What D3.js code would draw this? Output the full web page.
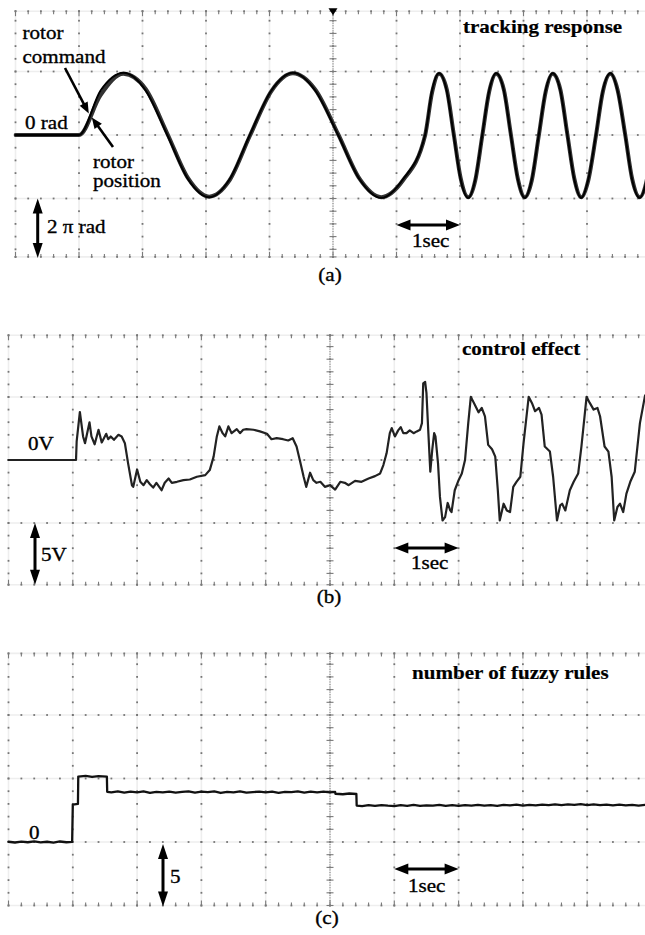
<!DOCTYPE html>
<html>
<head>
<meta charset="utf-8">
<script src="https://cdnjs.cloudflare.com/ajax/libs/d3/7.8.5/d3.min.js"></script>
<style>
  html, body { margin: 0; padding: 0; background: #fff; }
  svg { display: block; }
  .lbl { font-family: "Liberation Serif", "Times New Roman", serif; font-size: 19.5px; fill: #000;
         stroke: #000; stroke-width: 0.35px; }
  .lbl.ttl { font-weight: bold; stroke-width: 0.2px; }
  .dot { fill: #767676; }
  .fine { fill: #8e8e8e; }
  .smear { stroke: #eeeeee; stroke-width: 1.6; }
  .tick { stroke: #7a7a7a; stroke-width: 1.1; }
  .arrow line { stroke: #000; stroke-width: 3; }
  .arrow path { fill: #000; }
</style>
</head>
<body>
<svg id="chart" width="645" height="935"></svg>
<script>
// (a) tracking response, time in sec, angle in rad
const timeA = [0, 1.00, 1.34, 1.70, 2.05, 2.39, 2.72, 3.05, 3.37, 3.69, 4.03, 4.37, 4.72, 5.08, 5.42, 5.76, 6.10, 6.45,
  6.56, 6.67, 6.79, 6.90, 7.01, 7.13, 7.24, 7.35,
  7.46, 7.57, 7.69, 7.80, 7.91, 8.02, 8.13, 8.24,
  8.35, 8.46, 8.58, 8.69, 8.80, 8.91, 9.02, 9.14,
  9.25, 9.37, 9.48, 9.60, 9.71, 9.83, 9.94, 10.05];
const commandA = [0, 0, 4.40, 6.16, 4.40, 0, -4.40, -6.16, -4.40, 0, 4.40, 6.16, 4.40, 0, -4.40, -6.22, -4.40, 0,
  4.40, 6.10, 4.40, 0, -4.40, -6.22, -4.40, 0,
  4.40, 6.10, 4.40, 0, -4.40, -6.22, -4.40, 0,
  4.40, 6.10, 4.40, 0, -4.40, -6.22, -4.40, 0,
  4.40, 6.10, 4.40, 0, -4.40, -6.22, -4.40, 0];
const positionA = [0, 0, 3.95, 6.05, 4.55, 0.15, -4.30, -6.10, -4.50, -0.10, 4.35, 6.10, 4.50, 0.10, -4.35, -6.15, -4.50, -0.05,
  4.20, 6.05, 4.55, 0.15, -4.25, -6.15, -4.50, -0.10,
  4.30, 6.05, 4.50, 0.10, -4.30, -6.15, -4.50, -0.10,
  4.30, 6.05, 4.50, 0.10, -4.30, -6.15, -4.50, -0.10,
  4.30, 6.05, 4.50, 0.10, -4.30, -6.15, -4.50, -0.10];

// (b) control effect, [sec, volt]
const controlEffect = [
  [0, 0], [1.05, 0], [1.06, 1.47], [1.11, 3.81], [1.16, 1.87], [1.19, 1.33], [1.26, 2.99], [1.29, 1.87],
  [1.34, 1.25], [1.40, 2.40], [1.45, 1.39], [1.52, 2.08], [1.55, 1.65], [1.59, 1.87], [1.64, 1.60], [1.71, 2.00],
  [1.76, 1.87], [1.81, 1.33], [1.86, -0.27], [1.92, -2.00], [1.94, -2.13], [2.00, -0.75], [2.05, -1.73], [2.10, -2.00],
  [2.15, -1.60], [2.20, -1.92], [2.25, -2.19], [2.30, -1.81], [2.38, -2.40], [2.43, -1.81], [2.49, -1.47], [2.54, -1.81],
  [2.62, -1.73], [2.72, -1.60], [2.82, -1.55], [2.93, -1.33], [3.06, -1.20], [3.13, -0.80], [3.19, 0.27], [3.24, 1.87],
  [3.28, 2.67], [3.33, 2.13], [3.37, 1.87], [3.42, 2.67], [3.47, 2.13], [3.55, 2.45], [3.60, 2.13], [3.65, 2.40],
  [3.70, 2.45], [3.81, 2.40], [3.91, 2.27], [4.02, 2.08], [4.09, 1.65], [4.17, 1.73], [4.27, 1.65], [4.35, 1.55],
  [4.42, 1.73], [4.48, 1.07], [4.53, 0.00], [4.59, -1.33], [4.63, -2.13], [4.69, -1.01], [4.74, -1.60], [4.79, -1.81],
  [4.85, -1.73], [4.92, -2.13], [5.00, -2.00], [5.08, -2.35], [5.16, -1.73], [5.23, -1.81], [5.29, -2.00], [5.39, -1.65],
  [5.49, -1.73], [5.60, -1.47], [5.70, -1.28], [5.78, -1.07], [5.83, -0.40], [5.88, 0.53], [5.93, 2.13], [5.96, 2.53],
  [6.01, 1.87], [6.06, 2.35], [6.10, 2.61], [6.14, 2.13], [6.19, 2.13], [6.24, 2.35], [6.30, 2.13], [6.35, 2.27],
  [6.40, 2.40], [6.43, 2.93], [6.45, 6.08], [6.48, 6.19], [6.50, 5.33], [6.53, 2.13], [6.56, -0.93], [6.59, 0.80],
  [6.62, 2.13], [6.64, 1.87], [6.68, -0.27], [6.71, -2.93], [6.75, -4.80], [6.79, -4.53], [6.83, -3.41], [6.87, -4.00],
  [6.89, -4.13], [6.94, -2.40], [7.00, -1.60], [7.05, -1.07], [7.10, 0.00], [7.15, 2.93], [7.19, 5.01], [7.25, 4.40],
  [7.31, 3.79], [7.36, 4.13], [7.41, 3.47], [7.46, 1.20], [7.52, 0.85], [7.57, 0.27], [7.61, -2.40], [7.64, -4.80],
  [7.70, -3.47], [7.75, -4.00], [7.80, -4.13], [7.85, -2.13], [7.90, -1.73], [7.96, -1.33], [8.01, 1.33], [8.09, 5.01],
  [8.14, 4.53], [8.19, 3.87], [8.25, 4.13], [8.29, 3.60], [8.34, 1.07], [8.42, 0.67], [8.47, -1.33], [8.53, -4.80],
  [8.58, -3.60], [8.61, -3.47], [8.66, -4.00], [8.73, -2.40], [8.79, -1.73], [8.86, -1.07], [8.91, 1.07], [8.99, 5.01],
  [9.04, 4.53], [9.10, 4.00], [9.16, 4.13], [9.20, 3.47], [9.27, 1.07], [9.33, 0.67], [9.38, -1.33], [9.42, -4.80],
  [9.47, -3.73], [9.51, -3.47], [9.56, -4.13], [9.61, -2.67], [9.67, -1.73], [9.74, -0.93], [9.82, 2.93], [9.90, 5.12],
  [9.98, 5.50]
];

// (c) number of fuzzy rules, [sec, rules]
const fuzzyRules = [
  [0, 0.02], [0.1, -0.04], [0.2, 0.03], [0.3, -0.02], [0.4, 0.05], [0.5, -0.03], [0.6, 0.02], [0.7, -0.05],
  [0.8, 0.04], [0.9, -0.02], [0.99, 0.01], [1.0, 2.95], [1.08, 3.0],
  [1.085, 5.15], [1.2, 5.2], [1.3, 5.12], [1.4, 5.18], [1.53, 5.14],
  [1.535, 3.95], [1.6, 3.9], [1.7, 3.98], [1.8, 3.88], [1.9, 3.96], [2.0, 3.91], [2.1, 3.99], [2.2, 3.87],
  [2.3, 3.95], [2.4, 3.9], [2.5, 3.97], [2.6, 3.89], [2.7, 3.94], [2.8, 3.99], [2.9, 3.88], [3.0, 3.96],
  [3.1, 3.92], [3.2, 3.98], [3.3, 3.86], [3.4, 3.95], [3.5, 3.91], [3.6, 3.99], [3.7, 3.88], [3.8, 3.93],
  [3.9, 3.97], [4.0, 3.9], [4.1, 3.96], [4.2, 3.87], [4.3, 3.95], [4.4, 3.92], [4.5, 3.98], [4.6, 3.89],
  [4.7, 3.96], [4.8, 3.91], [4.9, 3.97], [5.0, 3.9], [5.08, 3.94],
  [5.085, 3.8], [5.2, 3.76], [5.3, 3.82], [5.41, 3.78],
  [5.415, 2.87], [5.5, 2.82], [5.6, 2.9], [5.7, 2.84], [5.8, 2.91], [5.9, 2.86], [6.0, 2.83], [6.1, 2.9],
  [6.2, 2.85], [6.3, 2.92], [6.4, 2.84], [6.5, 2.89], [6.6, 2.86], [6.7, 2.93], [6.8, 2.85], [6.9, 2.9],
  [7.0, 2.84], [7.1, 2.91], [7.2, 2.87], [7.3, 2.93], [7.4, 2.86], [7.5, 2.9], [7.6, 2.85], [7.7, 2.92],
  [7.8, 2.88], [7.9, 2.94], [8.0, 2.87], [8.1, 2.93], [8.2, 2.89], [8.3, 2.95], [8.4, 2.9], [8.5, 2.97],
  [8.6, 2.91], [8.7, 2.96], [8.8, 2.92], [8.9, 2.98], [9.0, 2.91], [9.1, 2.96], [9.2, 2.9], [9.3, 2.95],
  [9.4, 2.89], [9.5, 2.94], [9.6, 2.88], [9.7, 2.93], [9.8, 2.87], [9.9, 2.92], [10.0, 2.88]
];

const svg = d3.select("#chart");

function drawArrow(g, x1, y1, x2, y2, opts = {}) {
  const len = opts.len || 14, half = opts.half || 5.5, both = opts.both !== false;
  const ang = Math.atan2(y2 - y1, x2 - x1);
  const ux = Math.cos(ang), uy = Math.sin(ang);
  const grp = g.append("g").attr("class", "arrow");
  grp.append("line")
    .attr("x1", both ? x1 + ux * len * 0.7 : x1).attr("y1", both ? y1 + uy * len * 0.7 : y1)
    .attr("x2", x2 - ux * len * 0.7).attr("y2", y2 - uy * len * 0.7)
    .style("stroke-width", opts.width || 3);
  const head = (tx, ty, dx, dy) => {
    const bx = tx - dx * len, by = ty - dy * len;
    const nx = -dy * half, ny = dx * half;
    grp.append("path").attr("d", `M${tx},${ty}L${bx + nx},${by + ny}L${bx - nx},${by - ny}Z`);
  };
  head(x2, y2, ux, uy);
  if (both) head(x1, y1, -ux, -uy);
}

class ScopePanel {

  constructor(parent, cfg) {
    this.cfg = cfg;
    this.element = parent.append("g").attr("class", "panel panel-" + cfg.id);
    // 10 divisions across, 1 div = 1 sec
    this.x = d3.scaleLinear().domain([0, 10]).range([cfg.left, cfg.right]);
    // one vertical division = cfg.unit of the measured value
    this.y = d3.scaleLinear()
      .domain([cfg.mid, cfg.mid + cfg.unit])
      .range([cfg.center, cfg.center - cfg.div]);
    // graticule in divisions; outer rows sit a little inside +-2 (cropped screen)
    this.gy = d3.scaleLinear().domain([0, 1]).range([cfg.center, cfg.center - cfg.div]);
    this.top = this.gy(cfg.edges[1]);
    this.bottom = this.gy(cfg.edges[0]);

    this.element.append("clipPath")
      .attr("id", "clip-" + cfg.id)
      .append("rect")
      .attr("x", cfg.left - 2)
      .attr("y", this.top - 4)
      .attr("width", cfg.right - cfg.left + 4)
      .attr("height", this.bottom - this.top + 8);
  }

  drawGrid() {
    const x = this.x, gy = this.gy;
    const [lo, hi] = this.cfg.edges;
    const grid = this.element.append("g").attr("class", "grid");

    const cols = d3.range(0, 11);
    const rows = [lo, -1, 0, 1, hi];
    const fifthsX = d3.range(0, 51).map(i => i / 5);
    const fifthsY = d3.range(0, 21).map(i => -2 + i / 5).filter(d => d > lo + 0.05 && d < hi - 0.05).concat([lo, hi]);

    grid.selectAll("line.smear-h").data(rows).join("line")
      .attr("class", "smear smear-h")
      .attr("x1", x(0)).attr("x2", x(10))
      .attr("y1", d => gy(d)).attr("y2", d => gy(d));
    grid.selectAll("line.smear-v").data(cols).join("line")
      .attr("class", "smear smear-v")
      .attr("x1", d => x(d)).attr("x2", d => x(d))
      .attr("y1", this.bottom).attr("y2", this.top);

    const dots = [];
    rows.forEach(r => fifthsX.forEach(f => dots.push([x(f), gy(r)])));
    cols.forEach(c => fifthsY.forEach(f => dots.push([x(c), gy(f)])));

    grid.selectAll("rect.dot").data(dots).join("rect")
      .attr("class", "dot")
      .attr("x", d => d[0] - 0.9)
      .attr("y", d => d[1] - 0.9)
      .attr("width", 1.8)
      .attr("height", 1.8);

    // centre axis: fine dotted line with ticks every fifth
    const fine = d3.range(0, 101).map(i => -2 + i / 25).filter(d => d >= lo && d <= hi);
    grid.selectAll("rect.fine").data(fine).join("rect")
      .attr("class", "fine")
      .attr("x", x(5) - 0.6)
      .attr("y", d => gy(d) - 0.6)
      .attr("width", 1.2)
      .attr("height", 1.2);
    grid.selectAll("line.ctick").data(fifthsY).join("line")
      .attr("class", "tick ctick")
      .attr("x1", x(5) - 3.5).attr("x2", x(5) + 3.5)
      .attr("y1", d => gy(d)).attr("y2", d => gy(d));

    // border ticks top and bottom, longer where a column meets the edge
    const edge = [];
    fifthsX.forEach(f => {
      const major = Math.abs(f - Math.round(f)) < 1e-6 ? 5 : 3;
      edge.push([x(f), this.top, major]);
      edge.push([x(f), this.bottom, -major]);
    });
    grid.selectAll("line.etick").data(edge).join("line")
      .attr("class", "tick etick")
      .attr("x1", d => d[0]).attr("x2", d => d[0])
      .attr("y1", d => d[1]).attr("y2", d => d[1] + d[2]);

    if (this.cfg.trigger) {
      const cx = x(5), ty = this.top;
      grid.append("path")
        .attr("d", `M${cx - 4.5},${ty - 3}L${cx + 4.5},${ty - 3}L${cx},${ty + 4}Z`)
        .attr("fill", "#000");
    }
  }

  drawTrace(data, opts) {
    const line = d3.line()
      .x(d => this.x(d[0]))
      .y(d => this.y(d[1]))
      .curve(opts.curve || d3.curveLinear);

    this.element.append("path")
      .datum(data)
      .attr("clip-path", "url(#clip-" + this.cfg.id + ")")
      .attr("d", line)
      .attr("fill", "none")
      .attr("stroke", opts.color)
      .attr("stroke-width", opts.width)
      .attr("stroke-linejoin", "round")
      .attr("stroke-linecap", "round");
  }

  drawLabels(labels) {
    this.element.selectAll("text.lbl").data(labels).join("text")
      .attr("class", d => "lbl" + (d.bold ? " ttl" : ""))
      .attr("transform", d => `translate(${d.x},${d.y}) scale(1.08,1)`)
      .attr("text-anchor", d => d.anchor || "start")
      .text(d => d.text);
  }

  timeArrow(py) {
    drawArrow(this.element, this.x(6), py, this.x(7), py);
  }
}

// ---- (a)
const panelA = new ScopePanel(svg, {id: "a", left: 15.5, right: 650.5, center: 135, div: 63.5,
  mid: 0, unit: 2 * Math.PI, edges: [-1.92, 1.95], trigger: true});
panelA.drawGrid();
panelA.drawTrace(timeA.map((t, i) => [t, positionA[i]]), {color: "#333", width: 4, curve: d3.curveMonotoneX});
panelA.drawTrace(timeA.map((t, i) => [t, commandA[i]]), {color: "#000", width: 2, curve: d3.curveMonotoneX});
panelA.drawLabels([
  {text: "rotor", x: 22.5, y: 38.5},
  {text: "command", x: 22.5, y: 63},
  {text: "0 rad", x: 25, y: 129},
  {text: "rotor", x: 93, y: 168},
  {text: "position", x: 93, y: 187},
  {text: "2 \u03c0 rad", x: 47, y: 233},
  {text: "tracking response", x: 463, y: 33, bold: true},
  {text: "1sec", x: 412, y: 247},
  {text: "(a)", x: 330, y: 281, anchor: "middle"}
]);
// pointers to the two traces
const tipX = panelA.x(1.17), tipY = panelA.y(1.94);
drawArrow(panelA.element, 65, 68, tipX - 1, tipY - 2, {both: false, len: 11, half: 4.5, width: 2.6});
drawArrow(panelA.element, 113, 147, tipX + 2, tipY + 2, {both: false, len: 11, half: 4.5, width: 2.6});
drawArrow(panelA.element, 37.7, panelA.y(-2 * Math.PI), 37.7, panelA.bottom + 1, {len: 15, half: 5});
panelA.timeArrow(225);

// ---- (b)
const panelB = new ScopePanel(svg, {id: "b", left: 8.5, right: 651.5, center: 460, div: 63,
  mid: 0, unit: 5, edges: [-1.98, 1.98]});
panelB.drawGrid();
panelB.drawTrace(controlEffect, {color: "#222", width: 2.2});
panelB.drawLabels([
  {text: "control effect", x: 462, y: 355, bold: true},
  {text: "0V", x: 28, y: 450},
  {text: "5V", x: 41, y: 561},
  {text: "1sec", x: 411, y: 569},
  {text: "(b)", x: 329, y: 603, anchor: "middle"}
]);
drawArrow(panelB.element, 35, panelB.y(-5), 35, panelB.bottom, {len: 15, half: 5});
panelB.timeArrow(548);

// ---- (c)
const panelC = new ScopePanel(svg, {id: "c", left: 8.5, right: 651.5, center: 778.5, div: 63.5,
  mid: 5, unit: 5, edges: [-2, 1.97]});
panelC.drawGrid();
panelC.drawTrace(fuzzyRules, {color: "#111", width: 2.3});
panelC.drawLabels([
  {text: "number of fuzzy rules", x: 412, y: 679, bold: true},
  {text: "0", x: 29, y: 839},
  {text: "5", x: 170, y: 883},
  {text: "1sec", x: 408, y: 892},
  {text: "(c)", x: 327, y: 924, anchor: "middle"}
]);
drawArrow(panelC.element, 163, panelC.y(0) + 2, 163, panelC.bottom + 1, {len: 15, half: 5});
panelC.timeArrow(869);
</script>
</body>
</html>
